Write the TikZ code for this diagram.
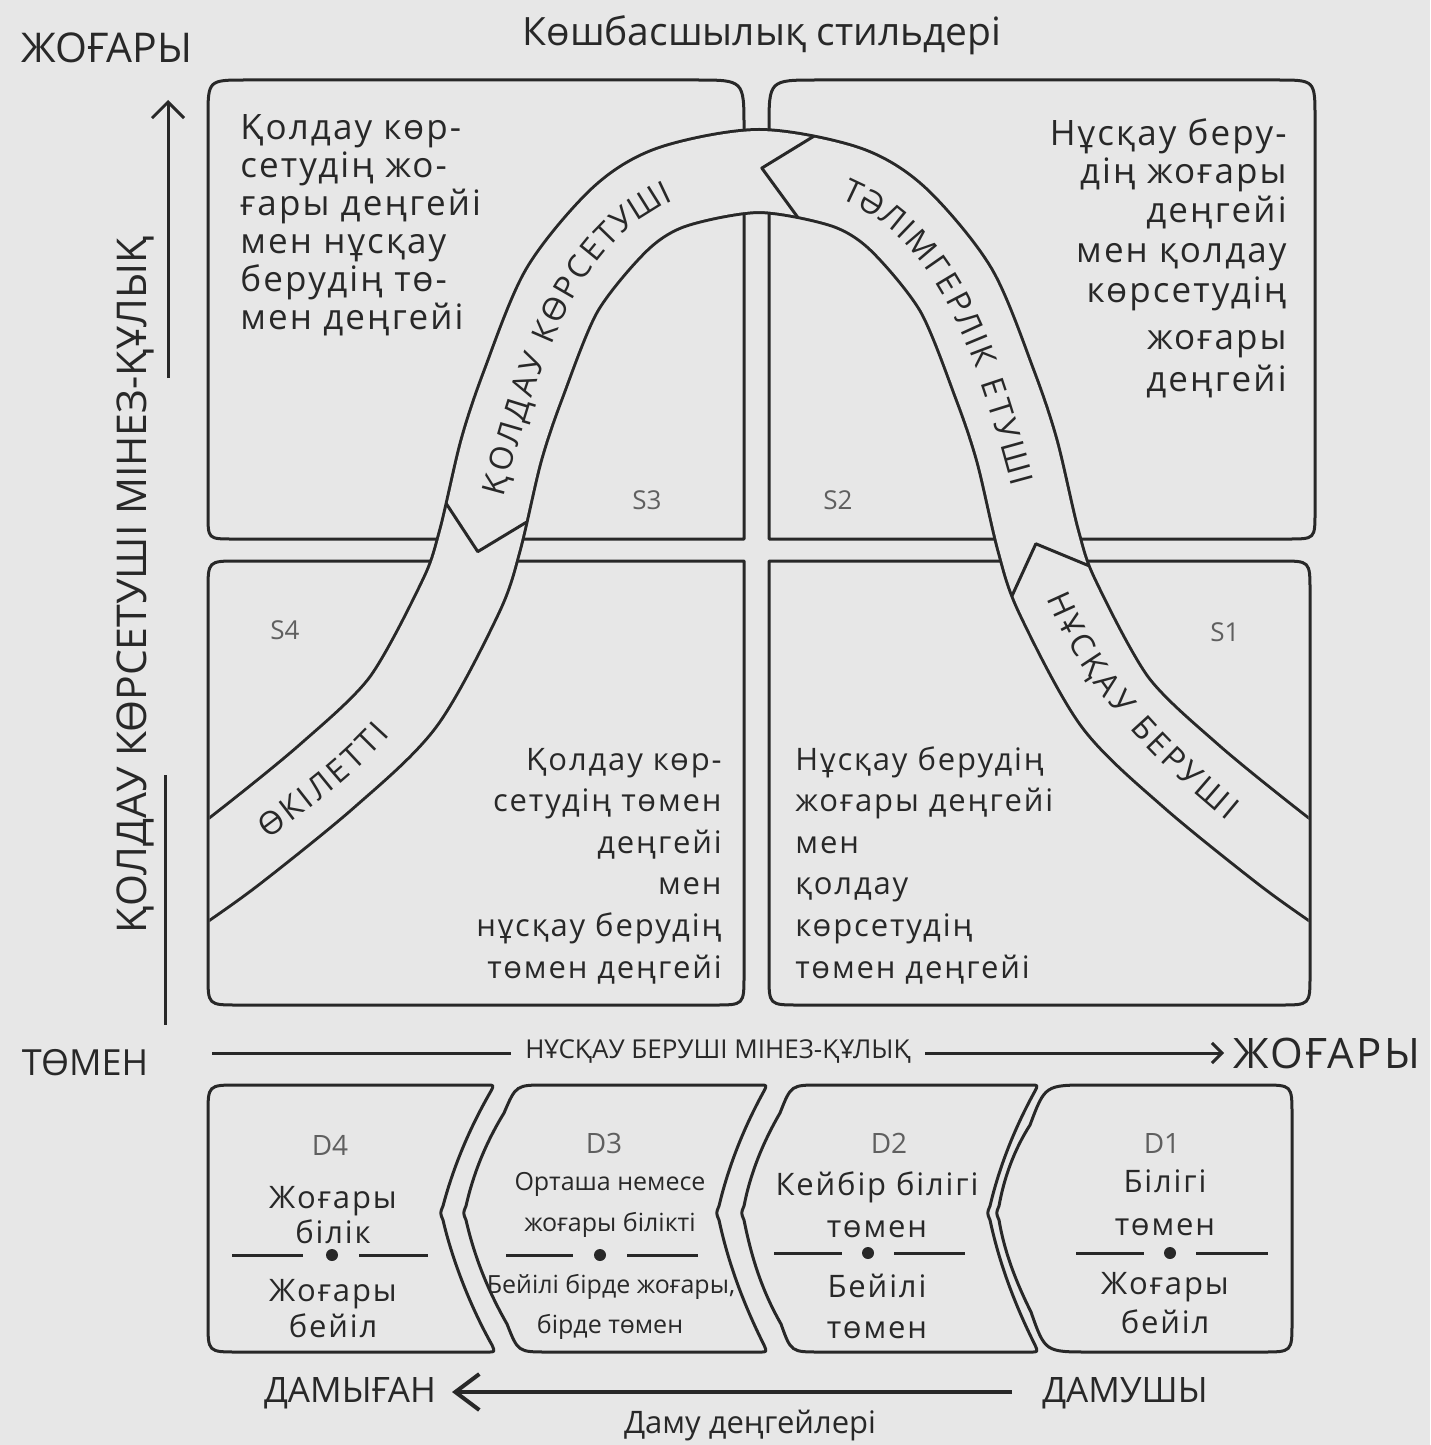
\documentclass[tikz,border=0pt]{standalone}
\usepackage{fontspec}
\setmainfont{Open Sans}
\usetikzlibrary{decorations.markings,arrows.meta}
\definecolor{bgc}{RGB}{231,231,231}
\definecolor{ink}{RGB}{40,40,40}
\definecolor{soft}{RGB}{95,95,95}
\newdimen\chw
\newdimen\chwg
\newdimen\accum
\newcommand\ribfont{\fontsize{16}{19}\selectfont}
\newcommand\ribtrack{1.5pt}
\newcommand\measurechar[1]{\pgfinterruptpicture\settowidth{\chw}{\ribfont#1}\global\chwg=\chw\endpgfinterruptpicture}
% uses \qa \qb \qc \qd (quarter arc lengths, px) and \scen (centre arc length, px)
% #1 curve, #2 character list, #3 name prefix
\newcommand\ribbonlabel[3]{%
  \global\accum=0pt
  \foreach \c in {#2} {\measurechar{\c}\global\advance\accum by \chwg \global\advance\accum by \ribtrack}%
  \pgfmathsetmacro\sstart{\scen-\accum}%
  \global\let\sstartg\sstart
  \global\accum=0pt
  \foreach \c [count=\k] in {#2} {%
    \measurechar{\c}%
    \pgfmathsetmacro\sarc{\sstartg+2*\accum+\chwg}%
    \pgfmathsetmacro\tpos{\sarc<\qa ? \sarc/\qa*0.25 : (\sarc<\qa+\qb ? 0.25+(\sarc-\qa)/\qb*0.25 : (\sarc<\qa+\qb+\qc ? 0.5+(\sarc-\qa-\qb)/\qc*0.25 : 0.75+(\sarc-\qa-\qb-\qc)/\qd*0.25))}%
    \path #1 node[pos=\tpos, sloped, anchor=center, inner sep=0pt, text height=11.4pt, text depth=0pt, font=\ribfont, text=ink] (#3\k) {\c};
    \global\advance\accum by \chwg
    \global\advance\accum by \ribtrack
  }%
}
\tikzset{
  boxline/.style={draw=ink, line width=1.5pt, line join=round},
  bodybig/.style={font=\fontsize{17.5}{21}\selectfont\addfontfeature{LetterSpace=6}, text=ink, inner sep=0pt},
  body/.style={font=\fontsize{15.5}{19}\selectfont\addfontfeature{LetterSpace=6}, text=ink, inner sep=0pt},
  smalltxt/.style={font=\fontsize{12.5}{15}\selectfont, text=ink, inner sep=0pt},
  stag/.style={font=\fontsize{13}{15}\selectfont, text=soft, inner sep=0pt},
  dtag/.style={font=\fontsize{14}{16}\selectfont, text=soft, inner sep=0pt},
  bigtxt/.style={font=\fontsize{18}{21}\selectfont, text=ink, inner sep=0pt},
  axisline/.style={draw=ink, line width=1.5pt}
}
\begin{document}
\begin{tikzpicture}[x=0.5pt,y=-0.5pt,color=ink]
\useasboundingbox (0,0) rectangle (1430,1445);
\fill[bgc] (0,0) rectangle (1430,1445);

% quadrant boxes
\draw[boxline] (744,539) -- (233,539) .. controls (208,539) .. (208,514) -- (208,118) .. controls (208,80) .. (246,80) -- (696,80) .. controls (744,80) .. (744,128) -- cycle;
\draw[boxline] (769,539) -- (769,128) .. controls (769,80) .. (817,80) -- (1277,80) .. controls (1315,80) .. (1315,118) -- (1315,512) .. controls (1315,539) .. (1288,539) -- cycle;
\draw[boxline] (744,561) -- (744,975) .. controls (744,1005) .. (714,1005) -- (238,1005) .. controls (208,1005) .. (208,975) -- (208,591) .. controls (208,561) .. (238,561) -- cycle;
\draw[boxline] (769,561) -- (1280,561) .. controls (1310,561) .. (1310,591) -- (1310,975) .. controls (1310,1005) .. (1280,1005) -- (799,1005) .. controls (769,1005) .. (769,975) -- cycle;

% ribbon band
\begin{scope}
\clip (209.5,60) rectangle (1308.5,1020);
\draw[ink, line width=43pt] plot[smooth] coordinates {(173,895) (232,853) (327,776) (403,702) (461,596) (480,540) (501,451) (523,385) (562,290) (620,219) (672,187) (759,171) (846,187) (898,219) (956,290) (995,385) (1017,451) (1038,540) (1057,596) (1115,702) (1191,776) (1286,853) (1345,895)};
\draw[bgc, line width=40pt] plot[smooth] coordinates {(173,895) (232,853) (327,776) (403,702) (461,596) (480,540) (501,451) (523,385) (562,290) (620,219) (672,187) (759,171) (846,187) (898,219) (956,290) (995,385) (1017,451) (1038,540) (1057,596) (1115,702) (1191,776) (1286,853) (1345,895)};
\end{scope}

% junction marks
\path[decorate, decoration={markings,
  mark=at position 0.258 with {\coordinate (ja1) at (0,41.5); \coordinate (ja2) at (0,-41.5); \coordinate (jat) at (-40,0);},
  mark=at position 0.524 with {\coordinate (jb1) at (0,41.5); \coordinate (jb2) at (0,-41.5); \coordinate (jbt) at (-45,0);},
  mark=at position 0.778 with {\coordinate (jc1) at (0,41.5); \coordinate (jc2) at (0,-41.5); \coordinate (jct) at (-40,0);}}]
  plot[smooth] coordinates {(173,895) (232,853) (327,776) (403,702) (461,596) (480,540) (501,451) (523,385) (562,290) (620,219) (672,187) (759,171) (846,187) (898,219) (956,290) (995,385) (1017,451) (1038,540) (1057,596) (1115,702) (1191,776) (1286,853) (1345,895)};
\draw[boxline] (ja1) -- (jat) -- (ja2);
\draw[boxline] (jb1) -- (jbt) -- (jb2);
\draw[boxline] (jc1) -- (jct) -- (jc2);

% ribbon texts
\def\qa{57.3}\def\qb{57.6}\def\qc{57.2}\def\qd{56.9}\def\scen{118}
\ribbonlabel{(232,853) .. controls (292,806.5) and (357.6,763) .. (403,702)}{Ө,К,І,Л,Е,Т,Т,І}{ra}
\def\qa{133}\def\qb{122.7}\def\qc{109.9}\def\qd{116.7}\def\scen{231}
\ribbonlabel{(480,540) .. controls (528,366.5) and (561,190) .. (740,172)}{Қ,О,Л,Д,А,У,~,К,Ө,Р,С,Е,Т,У,Ш,І}{rb}
\def\qa{116.7}\def\qb{109.9}\def\qc{122.7}\def\qd{133}\def\scen{247}
\ribbonlabel{(778,172) .. controls (957,190) and (990,366.5) .. (1038,540)}{Т,Ә,Л,І,М,Г,Е,Р,Л,І,К,~,Е,Т,У,Ш,І}{rc}
\def\qa{103}\def\qb{98.2}\def\qc{100.1}\def\qd{105.3}\def\scen{200}
\ribbonlabel{(1038,540) .. controls (1076.6,679.8) and (1171.3,764.4) .. (1286,853)}{Н,Ұ,С,Қ,А,У,~,Б,Е,Р,У,Ш,І}{rd}

% quadrant texts
\foreach \t [count=\i] in {Қолдау көр-, сетудің жо-, ғары деңгейі, мен нұсқау, берудің тө-, мен деңгейі}
  \node[bodybig, anchor=base west] (tl\i) at (240,{140+37.8*(\i-1)}) {\t};
\foreach \t/\yb [count=\i] in {Нұсқау беру-/146, дің жоғары/184, деңгейі/222, мен қолдау/262, көрсетудің/302, жоғары/349, деңгейі/391}
  \node[bodybig, anchor=base east] (tr\i) at (1287,\yb) {\t};
\foreach \t [count=\i] in {Қолдау көр-, сетудің төмен, деңгейі, мен, нұсқау берудің, төмен деңгейі}
  \node[body, anchor=base east] (bl\i) at (722,{770+41.6*(\i-1)}) {\t};
\foreach \t [count=\i] in {Нұсқау берудің, жоғары деңгейі, мен, қолдау, көрсетудің, төмен деңгейі}
  \node[body, anchor=base west] (br\i) at (795,{770+41.6*(\i-1)}) {\t};

% style tags
\node[stag] (s3) at (647,500) {S3};
\node[stag] (s2) at (838,500) {S2};
\node[stag] (s4) at (285,630) {S4};
\node[stag] (s1) at (1225,632) {S1};

% titles and axes
\node[font=\fontsize{19.5}{22}\selectfont, inner sep=0pt] (title) at (762,35) {Көшбасшылық стильдері};
\node[font=\fontsize{20.5}{23}\selectfont, inner sep=0pt] (yhigh) at (107,48) {ЖОҒАРЫ};
\node[font=\fontsize{20.5}{23}\selectfont, rotate=90, inner sep=0pt] (vax) at (135,585) {ҚОЛДАУ КӨРСЕТУШІ МІНЕЗ-ҚҰЛЫҚ};
\coordinate (vtop) at (168,100);
\coordinate (vbot) at (168,378);
\draw[axisline, -{Straight Barb[length=8pt,width=16pt]}] (vbot) -- (vtop);
\coordinate (vl1) at (165,775);
\coordinate (vl2) at (165,1025);
\draw[axisline] (vl1) -- (vl2);

\node[bigtxt] (xlow) at (85,1063) {ТӨМЕН};
\node[font=\fontsize{21}{23}\selectfont\addfontfeature{LetterSpace=6}, inner sep=0pt] (xhigh) at (1327,1053) {ЖОҒАРЫ};
\node[font=\fontsize{13}{15}\selectfont, inner sep=7pt] (hax) at (718,1051) {НҰСҚАУ БЕРУШІ МІНЕЗ-ҚҰЛЫҚ};
\coordinate (hl) at (212,1053);
\coordinate (hr) at (1224,1053);
\draw[axisline] (hl) -- (hax.west |- hl);
\draw[axisline, -{Straight Barb[length=5pt,width=10pt]}] (hax.east |- hl) -- (hr);

% development boxes
\draw[boxline] (238,1085) -- (487,1085) .. controls (494,1085) .. (491,1091) .. controls (469,1129) and (453,1168) .. (443,1206) .. controls (440,1213) .. (443,1220) .. controls (452,1259) and (470,1306) .. (492,1345) .. controls (495,1352) .. (488,1352) -- (238,1352) .. controls (208,1352) .. (208,1322) -- (208,1115) .. controls (208,1085) .. (238,1085) -- cycle;
\draw[boxline] (546,1085) -- (760,1085) .. controls (767,1085) .. (764,1091) .. controls (743,1129) and (728,1168) .. (719,1206) .. controls (716,1213) .. (719,1220) .. controls (728,1262) and (743,1303) .. (764,1345) .. controls (767,1352) .. (760,1352) -- (548,1352) .. controls (518,1352) .. (507,1324) .. controls (487,1289) and (474,1255) .. (466,1220) .. controls (463,1213) .. (466,1206) .. controls (473,1175) and (485,1144) .. (504,1113) .. controls (516,1085) .. (546,1085) -- cycle;
\draw[boxline] (820,1085) -- (1031,1085) .. controls (1038,1085) .. (1035,1091) .. controls (1014,1129) and (999,1168) .. (990,1206) .. controls (987,1213) .. (990,1220) .. controls (999,1262) and (1014,1303) .. (1035,1345) .. controls (1038,1352) .. (1031,1352) -- (820,1352) .. controls (791,1352) .. (781,1324) .. controls (761,1289) and (751,1255) .. (744,1220) .. controls (741,1213) .. (744,1206) .. controls (750,1175) and (762,1144) .. (780,1113) .. controls (791,1085) .. (820,1085) -- cycle;
\draw[boxline] (1090,1085) -- (1262,1085) .. controls (1292,1085) .. (1292,1115) -- (1292,1322) .. controls (1292,1352) .. (1262,1352) -- (1090,1352) .. controls (1045,1352) .. (1031,1312) .. controls (1015,1280) and (1004,1250) .. (999,1220) .. controls (996,1213) .. (999,1206) .. controls (1004,1178) and (1014,1150) .. (1030,1125) .. controls (1045,1085) .. (1090,1085) -- cycle;

% D4
\node[dtag, anchor=base] (d4) at (330,1155) {D4};
\node[body, anchor=base] (d4a) at (333,1208) {Жоғары};
\node[body, anchor=base] (d4b) at (333,1243) {білік};
\node[body, anchor=base] (d4c) at (333,1301) {Жоғары};
\node[body, anchor=base] (d4d) at (333,1337) {бейіл};
\draw[axisline] (232,1255) -- (303,1255);
\draw[axisline] (359,1255) -- (428,1255);
\fill[ink] (332,1255) circle (3pt);
% D3
\node[dtag, anchor=base] (d3) at (604,1153) {D3};
\node[smalltxt, anchor=base] (d3a) at (610,1190) {Орташа немесе};
\node[smalltxt, anchor=base] (d3b) at (610,1231) {жоғары білікті};
\node[smalltxt, anchor=base] (d3c) at (611,1293) {Бейілі бірде жоғары,};
\node[smalltxt, anchor=base] (d3d) at (610,1333) {бірде төмен};
\draw[axisline] (506,1255) -- (573,1255);
\draw[axisline] (627,1255) -- (698,1255);
\fill[ink] (600,1255) circle (3pt);
% D2
\node[dtag, anchor=base] (d2) at (889,1153) {D2};
\node[body, anchor=base] (d2a) at (877,1195) {Кейбір білігі};
\node[body, anchor=base] (d2b) at (877,1237) {төмен};
\node[body, anchor=base] (d2c) at (877,1297) {Бейілі};
\node[body, anchor=base] (d2d) at (877,1338) {төмен};
\draw[axisline] (774,1253) -- (842,1253);
\draw[axisline] (894,1253) -- (965,1253);
\fill[ink] (868,1253) circle (3pt);
% D1
\node[dtag, anchor=base] (d1) at (1162,1153) {D1};
\node[body, anchor=base] (d1a) at (1165,1192) {Білігі};
\node[body, anchor=base] (d1b) at (1165,1235) {төмен};
\node[body, anchor=base] (d1c) at (1165,1294) {Жоғары};
\node[body, anchor=base] (d1d) at (1165,1333) {бейіл};
\draw[axisline] (1076,1253) -- (1144,1253);
\draw[axisline] (1196,1253) -- (1268,1253);
\fill[ink] (1170,1253) circle (3pt);

% development axis
\node[font=\fontsize{17.5}{20}\selectfont, inner sep=0pt] (dgan) at (350,1393) {ДАМЫҒАН};
\node[font=\fontsize{17.5}{20}\selectfont, inner sep=0pt] (dshy) at (1125,1393) {ДАМУШЫ};
\node[font=\fontsize{15.5}{18}\selectfont, inner sep=0pt] (dlev) at (750,1425) {Даму деңгейлері};
\coordinate (ba1) at (1012,1392);
\coordinate (ba2) at (452,1392);
\draw[line width=2pt, -{Straight Barb[length=12pt,width=18pt]}] (ba1) -- (ba2);
\end{tikzpicture}
\end{document}
